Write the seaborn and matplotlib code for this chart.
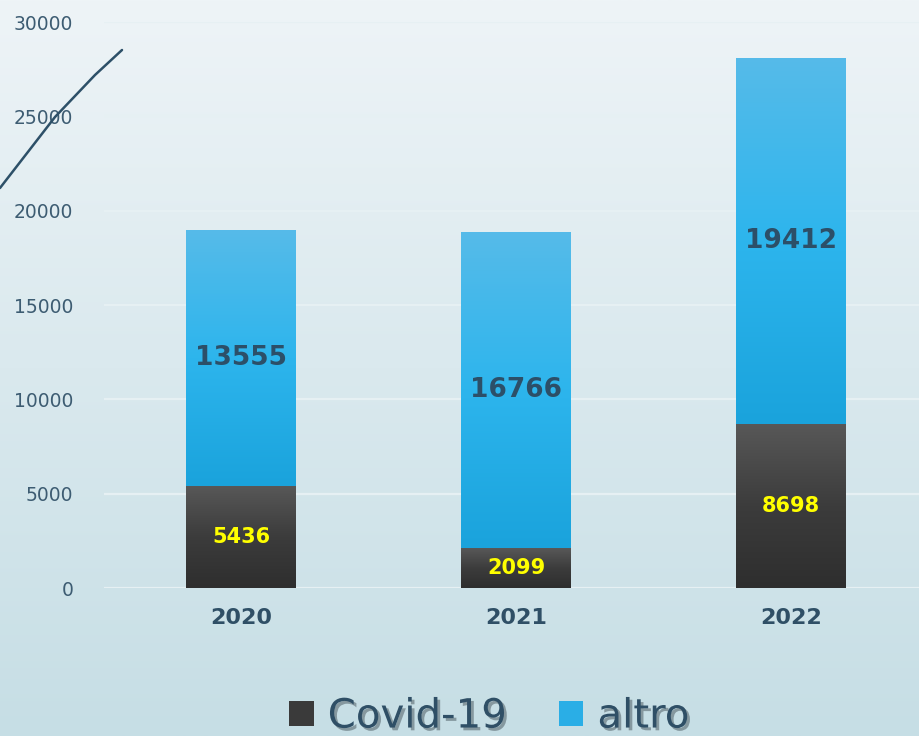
import matplotlib
matplotlib.use("Agg")
import matplotlib.pyplot as plt
import matplotlib.patheffects as pe
from matplotlib.patches import Patch
from matplotlib.lines import Line2D
from matplotlib.colors import LinearSegmentedColormap
import numpy as np
import pandas as pd
import seaborn as sns

# data
years = ["2020", "2021", "2022"]
covid = [5436, 2099, 8698]
altro = [13555, 16766, 19412]
yticks = [0, 5000, 10000, 15000, 20000, 25000, 30000]

df = pd.DataFrame({"anno": years, "covid": covid, "altro": altro})
df["totale"] = df["covid"] + df["altro"]

sns.set_theme(style="white")
plt.rcParams["font.family"] = ["DejaVu Sans"]

fig = plt.figure(figsize=(9.2, 7.36), dpi=100)

# background gradient
bg = fig.add_axes([0, 0, 1, 1], zorder=0)
grad = np.linspace(0, 1, 256).reshape(-1, 1)
bg_cmap = LinearSegmentedColormap.from_list("bg", ["#eef4f7", "#c6dee5"])
bg.imshow(grad, aspect="auto", cmap=bg_cmap, extent=[0, 1, 0, 1], origin="upper")
bg.set_axis_off()

ax = fig.add_axes([0.113, 0.201, 0.887, 0.769], zorder=1)
ax.patch.set_alpha(0)

sns.barplot(data=df, x="anno", y="totale", color="#2aaee6", width=0.40,
            saturation=1, linewidth=0, ax=ax, zorder=3)
n_alt = len(ax.patches)
sns.barplot(data=df, x="anno", y="covid", color="#3a3a3a", width=0.40,
            saturation=1, linewidth=0, ax=ax, zorder=4)

alt_cmap = LinearSegmentedColormap.from_list("alt", ["#56bbe9", "#2db5ed", "#1aa3dc"])
cov_cmap = LinearSegmentedColormap.from_list("cov", ["#585858", "#3c3c3c", "#2e2e2e"])
for i, p in enumerate(ax.patches):
    p.set_edgecolor("none")
    x0, y0 = p.get_x(), p.get_y()
    x1, y1 = x0 + p.get_width(), y0 + p.get_height()
    if i < n_alt:
        y0 = covid[i]
        cm, z = alt_cmap, 3.5
    else:
        cm, z = cov_cmap, 4.5
    im = ax.imshow(grad, aspect="auto", cmap=cm, extent=[x0, x1, y0, y1],
                   origin="upper", zorder=z)
    im.set_clip_path(p)

# labels
for i in range(len(years)):
    ax.text(i, covid[i] + altro[i] / 2, f"{altro[i]}", ha="center", va="center",
            fontsize=19, fontweight="bold", color="#2c4f68", zorder=6)
    ax.text(i, covid[i] / 2, f"{covid[i]}", ha="center", va="center",
            fontsize=15, fontweight="bold", color="#ffff00", zorder=6)

ax.set_xlim(-0.5, 2.47)
ax.set_ylim(0, 30000)
ax.set_yticks(yticks)
ax.set_yticklabels([str(v) for v in yticks])
ax.yaxis.grid(True, color="#e6f0f3", linewidth=1.6, zorder=0)
ax.set_axisbelow(True)
ax.tick_params(axis="y", length=0, pad=22, labelsize=13.5, labelcolor="#3d5c72")
ax.tick_params(axis="x", length=0, pad=14, labelsize=16, labelcolor="#2f4f66")
for t in ax.get_xticklabels():
    t.set_fontweight("bold")
for t in ax.get_yticklabels():
    t.set_horizontalalignment("right")
ax.set_xlabel("")
ax.set_ylabel("")
sns.despine(ax=ax, left=True, bottom=True)

# decorative line top-left
px = np.array([0, 55, 95, 122])
py = np.array([188, 117, 75, 50])
fig.add_artist(Line2D(px / 920, 1 - py / 736, color="#2d5068", linewidth=1.8))

handles = [Patch(facecolor="#3a3a3a", edgecolor="none", label="Covid-19"),
           Patch(facecolor="#2aaee6", edgecolor="none", label="altro")]
leg = fig.legend(handles=handles, loc="lower center", bbox_to_anchor=(0.532, -0.05),
                 ncol=2, frameon=False, fontsize=29, handlelength=0.6,
                 handleheight=0.6, handletextpad=0.35, columnspacing=1.3)
for t in leg.get_texts():
    t.set_color("#2f4f66")
    t.set_path_effects([pe.withSimplePatchShadow(offset=(2, -2), alpha=0.35)])

fig.savefig("out.png", dpi=100)
